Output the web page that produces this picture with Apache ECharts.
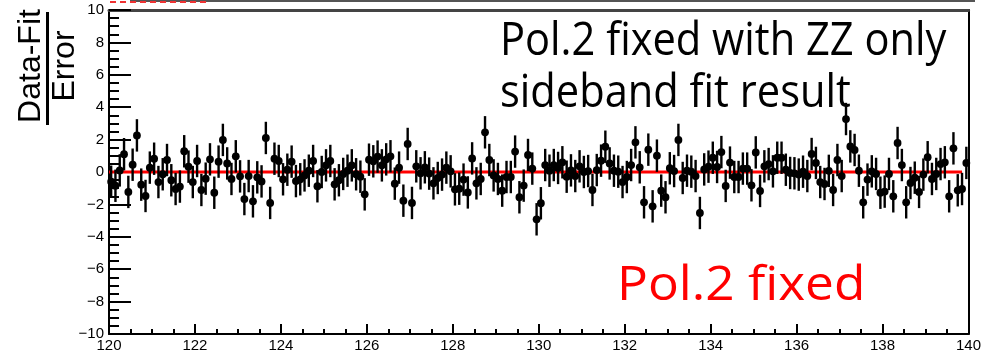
<!DOCTYPE html>
<html>
<head>
<meta charset="utf-8">
<script src="https://cdn.jsdelivr.net/npm/echarts@6/dist/echarts.min.js"></script>
<style>
html, body { margin: 0; padding: 0; background: #fff; }
#chart { width: 984px; height: 354px; }
</style>
</head>
<body>
<div id="chart"></div>
<script>
// Binning of the mass spectrum (GeV)
const binStart = 120;
const binWidth = 0.1;
const xRange = [120, 140];
const yRange = [-10, 10];

// Pull of each bin: (data - fit) / error
const pulls = [
  -0.60, -0.85, 0.10, 1.10, -1.23, 0.45, 2.26, -0.78, -1.48, 0.27,
  0.82, -0.62, -0.14, 0.74, -0.51, -1.05, -0.90, 1.28, 0.33, -0.62,
  0.68, -1.11, -0.41, 0.78, -1.28, 0.64, 1.98, 0.53, -0.43, 0.97,
  -0.27, -1.67, -0.25, -1.81, -0.33, -0.58, 2.10, -1.91, 0.82, 0.68,
  -0.45, 0.14, 0.64, -0.56, -0.45, -0.21, 0.08, 0.68, -0.88, 0.00,
  0.41, 0.68, -0.76, -0.51, -0.12, 0.08, 0.41, -0.14, -0.29, -1.38,
  0.76, 0.66, 0.95, 0.41, 0.78, 0.97, -0.72, 0.27, -1.77, 1.73,
  -1.91, 0.35, -0.08, 0.29, -0.10, -0.70, -0.37, -0.16, 0.27, 0.04,
  -1.07, -1.03, -0.47, -1.26, 0.84, -0.70, -0.43, 2.45, 0.74, -0.21,
  -0.43, -1.15, -0.31, -0.31, 1.26, -1.56, -0.84, 1.05, 0.21, -2.92,
  -1.93, 0.43, 0.08, 0.43, 0.25, 0.60, -0.29, 0.10, -0.25, 0.35,
  0.00, 0.06, -1.11, 0.12, 0.70, 1.56, 0.53, 0.08, 0.02, -0.62,
  -0.31, 0.43, 1.83, 0.29, -1.87, 1.38, -2.12, 1.01, -1.15, -1.56,
  0.23, 0.06, 1.98, -0.37, 0.08, 0.02, -0.25, -2.53, 0.16, 0.33,
  0.88, 0.31, 1.23, -0.86, 0.58, -0.31, -0.31, 0.21, 0.21, -0.82,
  1.21, -1.17, 0.35, 0.49, 0.04, 0.88, 0.88, 0.14, -0.06, -0.08,
  -0.16, 0.02, -0.25, 1.11, 0.56, -0.62, -0.74, 0.07, -1.11, 0.74,
  -0.25, 3.27, 1.58, 1.36, 0.08, -1.87, -0.47, 0.04, -0.12, -1.28,
  -1.21, -0.12, -1.50, 1.79, 0.43, -1.87, -0.68, -0.35, -1.23, -0.16,
  0.91, -0.43, -0.12, 0.49, 0.60, -1.50, 1.46, -1.13, -1.05, 0.56
];
// Every pull has unit uncertainty
const pullError = 1;

// Fit function drawn over its range (zero pull)
const fitX = [120, 139.85];
const fitY = [0, 0];

const points = pulls.map((v, i) => [binStart + (i + 0.5) * binWidth, v]);
const fitLine = fitX.map((x, i) => [x, fitY[i]]);

const chart = echarts.init(document.getElementById('chart'), null, { renderer: 'canvas' });

const minus = v => (v < 0 ? '\u2212' + Math.abs(v) : String(v));
const labelFont = { fontFamily: 'Liberation Sans', fontSize: 15, color: '#000' };

chart.setOption({
  animation: false,
  backgroundColor: '#fff',
  grid: { left: 109, right: 9, top: 10, bottom: 20, containLabel: false },
  xAxis: [{
    type: 'value', min: xRange[0], max: xRange[1], interval: 2,
    axisLine: { show: true, onZero: false, lineStyle: { color: '#000', width: 2 } },
    axisTick: { show: true, inside: true, length: 10, lineStyle: { color: '#000', width: 2 } },
    minorTick: { show: true, splitNumber: 4, length: 5, lineStyle: { color: '#000', width: 2 } },
    axisLabel: Object.assign({ margin: 4 }, labelFont),
    splitLine: { show: false }
  }, {
    type: 'value', position: 'top', min: xRange[0], max: xRange[1],
    axisLine: { show: true, onZero: false, lineStyle: { color: '#444', width: 3 } },
    axisTick: { show: false }, axisLabel: { show: false }, splitLine: { show: false }
  }],
  yAxis: [{
    type: 'value', min: yRange[0], max: yRange[1], interval: 2,
    axisLine: { show: true, onZero: false, lineStyle: { color: '#000', width: 2 } },
    axisTick: { show: true, inside: true, length: 22, lineStyle: { color: '#000', width: 2 } },
    minorTick: { show: true, splitNumber: 4, length: 10, lineStyle: { color: '#000', width: 2 } },
    axisLabel: Object.assign({ margin: 5, formatter: minus }, labelFont),
    splitLine: { show: false }
  }, {
    type: 'value', position: 'right', min: yRange[0], max: yRange[1],
    axisLine: { show: true, onZero: false, lineStyle: { color: '#000', width: 2 } },
    axisTick: { show: false }, axisLabel: { show: false }, splitLine: { show: false }
  }],
  series: [{
    name: 'fit',
    type: 'line',
    data: fitLine,
    symbol: 'none',
    lineStyle: { color: '#ff0000', width: 3 },
    z: 2
  }, {
    name: 'pull',
    type: 'custom',
    data: points,
    z: 3,
    renderItem: (params, api) => {
      const x = api.value(0), y = api.value(1);
      const hi = api.coord([x, y + pullError]);
      const lo = api.coord([x, y - pullError]);
      const c = api.coord([x, y]);
      return {
        type: 'group',
        children: [
          { type: 'line', shape: { x1: hi[0], y1: hi[1], x2: lo[0], y2: lo[1] },
            style: { stroke: '#000', lineWidth: 2.4 } },
          { type: 'circle', shape: { cx: c[0], cy: c[1], r: 3.9 },
            style: { fill: '#000' } }
        ]
      };
    }
  }],
  graphic: [
    // edge of the pad above
    { type: 'line', shape: { x1: 130, y1: 1, x2: 975, y2: 1 }, style: { stroke: '#555', lineWidth: 2 }, silent: true },
    { type: 'line', shape: { x1: 110, y1: 2, x2: 210, y2: 2 }, style: { stroke: '#e33', lineWidth: 2, lineDash: [6, 4] }, silent: true },
    // y-axis title as a fraction
    { type: 'text', x: 31, y: 66, rotation: Math.PI / 2,
      style: { text: 'Data-Fit', font: '32px "Liberation Sans"', fill: '#000', align: 'center', verticalAlign: 'middle' } },
    { type: 'rect', shape: { x: 46, y: 12, width: 3, height: 113 }, style: { fill: '#000' } },
    { type: 'text', x: 65, y: 66, rotation: Math.PI / 2,
      style: { text: 'Error', font: '32px "Liberation Sans"', fill: '#000', align: 'center', verticalAlign: 'middle' } },
    // annotations
    { type: 'text', x: 500, y: 20, scaleX: 0.925,
      style: { text: 'Pol.2 fixed with ZZ only', font: '45px "Open Sans"', fill: '#000', align: 'left', verticalAlign: 'top' } },
    { type: 'text', x: 500, y: 72, scaleX: 0.925,
      style: { text: 'sideband fit result', font: '45px "Open Sans"', fill: '#000', align: 'left', verticalAlign: 'top' } },
    { type: 'text', x: 617, y: 262, scaleX: 1.07,
      style: { text: 'Pol.2 fixed', font: '48px "Open Sans"', fill: '#ff0000', align: 'left', verticalAlign: 'top' } }
  ]
});
</script>
</body>
</html>
